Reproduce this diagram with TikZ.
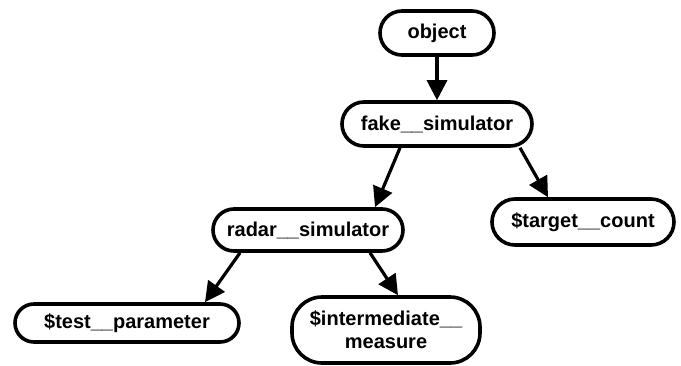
\documentclass[tikz,border=0pt]{standalone}
\usepackage{fontspec}
\setmainfont{Liberation Sans}
\usetikzlibrary{arrows.meta}
\begin{document}
\begin{tikzpicture}[x=1pt,y=-1pt,
  box/.style={draw=black,line width=3.6pt,rounded corners=22pt,fill=white,
    inner sep=0pt,align=center,font=\fontsize{20}{23}\selectfont\bfseries},
  arr/.style={line width=3.2pt,-{Triangle[length=20pt,width=20pt]}}]
\useasboundingbox (0,0) rectangle (681,365);
\node[box,minimum width=114pt,minimum height=44pt] (object) at (437,33) {object};
\node[box,minimum width=190pt,minimum height=44pt] (fake) at (437,124) {fake\_\_simulator};
\node[box,minimum width=190pt,minimum height=42pt,rounded corners=21pt] (radar) at (308,230) {radar\_\_simulator};
\node[box,minimum width=182pt,minimum height=46pt,rounded corners=23pt] (target) at (583,222) {\$target\_\_count};
\node[box,minimum width=224pt,minimum height=38pt,rounded corners=19pt] (test) at (127,323) {\$test\_\_parameter};
\node[box,minimum width=188pt,minimum height=66pt,rounded corners=30pt] (inter) at (386,330) {\$intermediate\_\_\\measure};
\draw[arr] (object) -- (fake);
\draw[arr] ([xshift=-37pt]fake.south) -- ([xshift=67pt]radar.north);
\draw[arr] ([xshift=83pt]fake.south) -- ([xshift=-35pt]target.north);
\draw[arr] ([xshift=-68pt]radar.south) -- ([xshift=78pt]test.north);
\draw[arr] ([xshift=62pt]radar.south) -- ([xshift=12pt]inter.north);
\end{tikzpicture}
\end{document}
